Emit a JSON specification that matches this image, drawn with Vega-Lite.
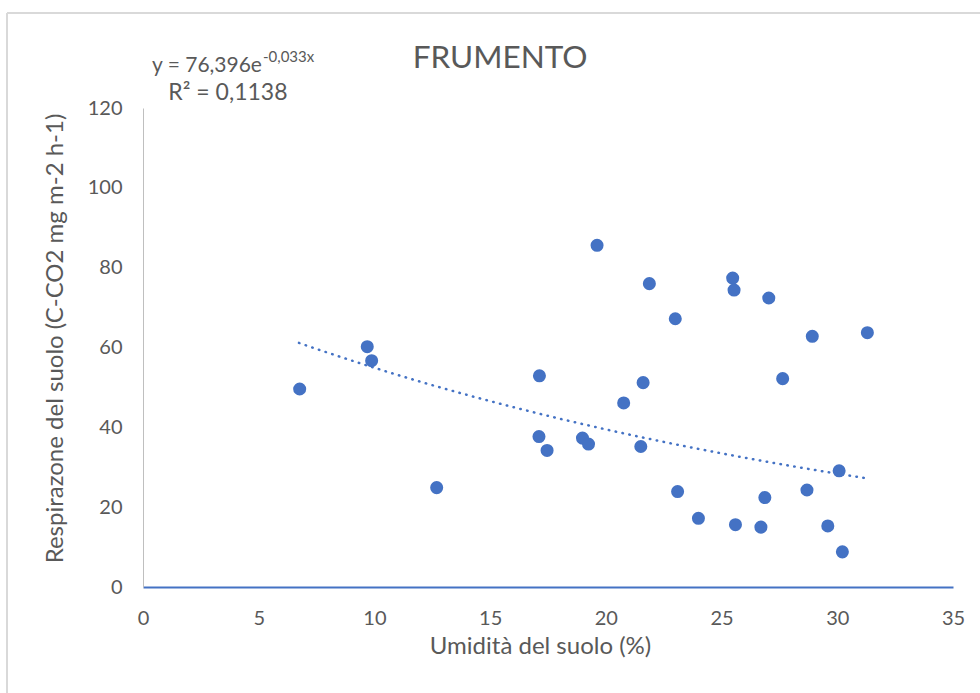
{
  "$schema": "https://vega.github.io/schema/vega-lite/v6.json",
  "width": 810,
  "height": 479,
  "autosize": {"type": "none"},
  "padding": {"left": 143, "top": 108, "right": 27, "bottom": 106},
  "background": "white",
  "config": {
    "view": {"stroke": null},
    "font": "Lato",
    "axis": {"labelFont": "Lato", "titleFont": "Lato", "labelColor": "#595959", "titleColor": "#595959", "grid": false, "ticks": false, "labelFontSize": 20, "titleFontSize": 24, "titleFontWeight": "normal"}
  },
  "datasets": {
    "points": [
      {"umidita": 6.77, "resp": 49.6},
      {"umidita": 9.69, "resp": 60.2},
      {"umidita": 9.88, "resp": 56.7},
      {"umidita": 12.69, "resp": 24.9},
      {"umidita": 17.13, "resp": 52.9},
      {"umidita": 17.11, "resp": 37.7},
      {"umidita": 17.46, "resp": 34.2},
      {"umidita": 18.99, "resp": 37.3},
      {"umidita": 19.25, "resp": 35.8},
      {"umidita": 19.62, "resp": 85.6},
      {"umidita": 20.77, "resp": 46.1},
      {"umidita": 21.51, "resp": 35.2},
      {"umidita": 21.61, "resp": 51.2},
      {"umidita": 21.88, "resp": 76.0},
      {"umidita": 23.0, "resp": 67.2},
      {"umidita": 23.1, "resp": 23.9},
      {"umidita": 24.0, "resp": 17.2},
      {"umidita": 25.48, "resp": 77.4},
      {"umidita": 25.54, "resp": 74.4},
      {"umidita": 25.6, "resp": 15.6},
      {"umidita": 26.7, "resp": 15.0},
      {"umidita": 26.87, "resp": 22.4},
      {"umidita": 27.04, "resp": 72.4},
      {"umidita": 27.64, "resp": 52.2},
      {"umidita": 28.69, "resp": 24.3},
      {"umidita": 28.92, "resp": 62.8},
      {"umidita": 29.59, "resp": 15.3},
      {"umidita": 30.08, "resp": 29.1},
      {"umidita": 30.22, "resp": 8.8},
      {"umidita": 31.3, "resp": 63.7}
    ],
    "trend": [
      {"umidita": 6.74, "resp": 61.15},
      {"umidita": 8, "resp": 58.67},
      {"umidita": 10, "resp": 54.92},
      {"umidita": 12, "resp": 51.41},
      {"umidita": 14, "resp": 48.13},
      {"umidita": 16, "resp": 45.06},
      {"umidita": 18, "resp": 42.18},
      {"umidita": 20, "resp": 39.49},
      {"umidita": 22, "resp": 36.96},
      {"umidita": 24, "resp": 34.6},
      {"umidita": 26, "resp": 32.39},
      {"umidita": 28, "resp": 30.32},
      {"umidita": 30, "resp": 28.39},
      {"umidita": 31.24, "resp": 27.25}
    ],
    "labels": [
      {"umidita": 5.14, "resp": 129.0, "text": "y = 76,396e", "kind": "main"},
      {"umidita": 5.14, "resp": 131.5, "text": "-0,033x", "kind": "sup"},
      {"umidita": 3.67, "resp": 122.0, "text": "R² = 0,1138", "kind": "r2"},
      {"umidita": 15.43, "resp": 130.0, "text": "FRUMENTO", "kind": "title"}
    ],
    "border": [
      {"x1": -5.876, "x2": -5.876, "y1": 143.8, "y2": -30},
      {"x1": -5.876, "x2": 37, "y1": 143.8, "y2": 143.8}
    ]
  },
  "layer": [
    {
      "data": {"name": "border"},
      "mark": {"type": "rule", "color": "#d9d9d9", "strokeWidth": 2, "clip": false},
      "encoding": {
        "x": {"field": "x1", "type": "quantitative", "scale": {"domain": [0, 35], "nice": false}},
        "x2": {"field": "x2"},
        "y": {"field": "y1", "type": "quantitative", "scale": {"domain": [0, 120], "nice": false}},
        "y2": {"field": "y2"}
      }
    },
    {
      "data": {"name": "points"},
      "mark": {"type": "circle", "color": "#4472C4", "opacity": 1, "size": 170},
      "encoding": {
        "x": {
          "field": "umidita", "type": "quantitative",
          "scale": {"domain": [0, 35], "nice": false},
          "axis": {"title": "Umidità del suolo (%)", "values": [0, 5, 10, 15, 20, 25, 30, 35], "domainColor": "#4472C4", "domainWidth": 2, "labelPadding": 21, "labelFlush": false, "titlePadding": 6, "titleX": 397}
        },
        "y": {
          "field": "resp", "type": "quantitative",
          "scale": {"domain": [0, 120], "nice": false},
          "axis": {"title": "Respirazone del suolo (C-CO2  mg m-2 h-1)", "values": [0, 20, 40, 60, 80, 100, 120], "domainColor": "#bfbfbf", "domainWidth": 1, "labelPadding": 21, "titlePadding": 20, "titleY": 230}
        }
      }
    },
    {
      "data": {"name": "trend"},
      "mark": {"type": "line", "color": "#4472C4", "strokeWidth": 2.5, "strokeDash": [0.5, 6.5], "strokeCap": "round", "interpolate": "monotone"},
      "encoding": {
        "x": {"field": "umidita", "type": "quantitative"},
        "y": {"field": "resp", "type": "quantitative"}
      }
    },
    {
      "data": {"name": "labels"},
      "transform": [{"filter": "datum.kind == 'main'"}],
      "mark": {"type": "text", "align": "right", "baseline": "alphabetic", "fontSize": 21, "font": "Lato", "color": "#595959", "clip": false},
      "encoding": {
        "x": {"field": "umidita", "type": "quantitative"},
        "y": {"field": "resp", "type": "quantitative"},
        "text": {"field": "text"}
      }
    },
    {
      "data": {"name": "labels"},
      "transform": [{"filter": "datum.kind == 'sup'"}],
      "mark": {"type": "text", "align": "left", "baseline": "alphabetic", "fontSize": 15, "font": "Lato", "color": "#595959", "clip": false, "dx": 1},
      "encoding": {
        "x": {"field": "umidita", "type": "quantitative"},
        "y": {"field": "resp", "type": "quantitative"},
        "text": {"field": "text"}
      }
    },
    {
      "data": {"name": "labels"},
      "transform": [{"filter": "datum.kind == 'r2'"}],
      "mark": {"type": "text", "align": "center", "baseline": "alphabetic", "fontSize": 23, "font": "Lato", "color": "#595959", "clip": false},
      "encoding": {
        "x": {"field": "umidita", "type": "quantitative"},
        "y": {"field": "resp", "type": "quantitative"},
        "text": {"field": "text"}
      }
    },
    {
      "data": {"name": "labels"},
      "transform": [{"filter": "datum.kind == 'title'"}],
      "mark": {"type": "text", "align": "center", "baseline": "alphabetic", "fontSize": 31.5, "font": "Lato", "color": "#595959", "clip": false},
      "encoding": {
        "x": {"field": "umidita", "type": "quantitative"},
        "y": {"field": "resp", "type": "quantitative"},
        "text": {"field": "text"}
      }
    }
  ]
}
